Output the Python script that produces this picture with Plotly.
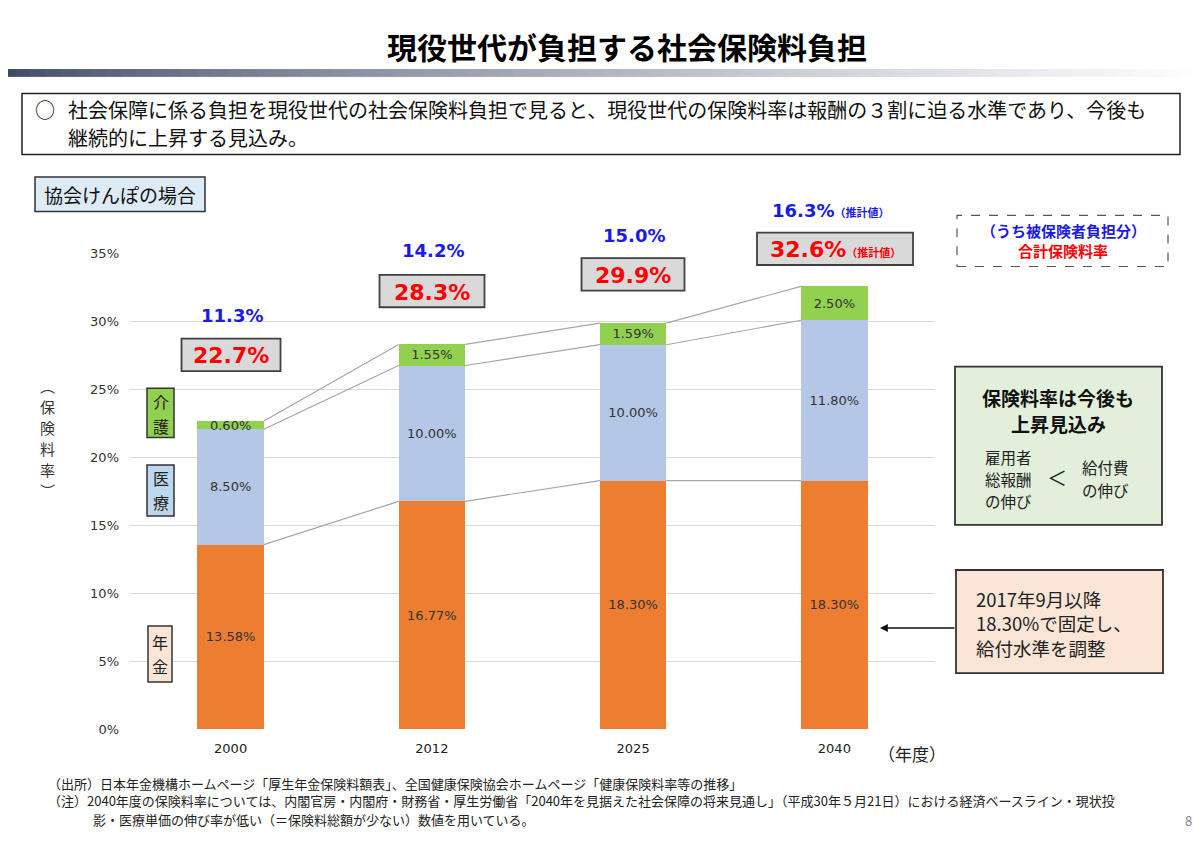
import plotly.graph_objects as go

# ---------------- data ----------------
years = ["2000", "2012", "2025", "2040"]
pension = [13.58, 16.77, 18.30, 18.30]     # 年金
medical = [8.50, 10.00, 10.00, 11.80]      # 医療
care = [0.60, 1.55, 1.59, 2.50]            # 介護
total_labels = ["22.7%", "28.3%", "29.9%", "32.6%"]
insured_labels = ["11.3%", "14.2%", "15.0%", "16.3%"]
estimate_flag = [False, False, False, True]

W, H = 1200, 849
OFF = 8  # page offset of the figure inside the browser window
FONT = "DejaVu Sans, Noto Sans CJK JP, sans-serif"
JP = "Noto Sans CJK JP, sans-serif"

def X(px):
    return (px - OFF) / W

def Y(py):
    return 1 - (py - OFF) / H

ORANGE = "#ED7D31"
BLUE = "#B4C7E7"
GREEN = "#92D050"
BAR_W = 0.33

fig = go.Figure()
for name, vals, col in [("年金", pension, ORANGE), ("医療", medical, BLUE), ("介護", care, GREEN)]:
    fig.add_trace(go.Bar(
        x=years, y=vals, name=name, marker=dict(color=col, line=dict(width=0)),
        width=BAR_W, text=[f"{v:.2f}%" for v in vals], textposition="inside",
        insidetextanchor="middle", textangle=0,
        textfont=dict(family=FONT, size=13, color="#333333"),
        hoverinfo="skip",
    ))

shapes = []
annotations = []

# connector lines between bar tops
levels = []
for i in range(len(years)):
    a = pension[i]
    b = a + medical[i]
    c = b + care[i]
    levels.append((a, b, c))
for i in range(len(years) - 1):
    for k in range(3):
        shapes.append(dict(type="line", xref="x", yref="y",
                           x0=i + BAR_W / 2, x1=i + 1 - BAR_W / 2,
                           y0=levels[i][k], y1=levels[i + 1][k],
                           line=dict(color="#A6A6A6", width=1.2), layer="above"))

# header gradient bar
n = 80
for j in range(n):
    t = j / (n - 1)
    tt = t ** 0.75
    r = int(61 + (255 - 61) * tt)
    g = int(74 + (255 - 74) * tt)
    b_ = int(102 + (255 - 102) * tt)
    x0 = j * (W + OFF) / n
    x1 = (j + 1) * (W + OFF) / n + 1
    shapes.append(dict(type="rect", xref="paper", yref="paper",
                       x0=X(x0), x1=X(x1), y0=Y(71), y1=Y(63),
                       fillcolor=f"rgb({r},{g},{b_})", line=dict(width=0), layer="below"))

def rect(x0, y0, x1, y1, fill="rgba(0,0,0,0)", color="#333333", width=1.5, dash="solid"):
    shapes.append(dict(type="rect", xref="paper", yref="paper",
                       x0=X(x0), x1=X(x1), y0=Y(y1), y1=Y(y0),
                       fillcolor=fill, line=dict(color=color, width=width, dash=dash),
                       layer="above"))

def text(x, y, s, size=14, color="#222222", xanchor="center", family=JP, bold=False,
         yanchor="middle"):
    if bold:
        s = f"<b>{s}</b>"
    annotations.append(dict(xref="paper", yref="paper", x=X(x), y=Y(y), text=s,
                            showarrow=False, xanchor=xanchor, yanchor=yanchor,
                            align="left" if xanchor == "left" else "center",
                            font=dict(family=family, size=size, color=color)))

def lines(x, y_top, rows, pitch, size, **kw):
    for k, row in enumerate(rows):
        text(x, y_top + k * pitch, row, size=size, **kw)

# title
text(627, 40, "現役世代が負担する社会保険料負担", size=30, color="#000000", bold=True)

# summary box
rect(22, 88, 1180, 150, color="#222222", width=1.5)
text(33, 104, "○", size=20, color="#111111", xanchor="left")
text(66, 104, "社会保障に係る負担を現役世代の社会保険料負担で見ると、現役世代の保険料率は報酬の３割に迫る水準であり、今後も",
     size=20, color="#111111", xanchor="left")
text(66, 133, "継続的に上昇する見込み。", size=20, color="#111111", xanchor="left")

# kyokai kenpo box
rect(35, 173, 205, 208, fill="#DDEBF7", color="#333333", width=1.5)
text(120, 190.5, "協会けんぽの場合", size=19, color="#111111")

# total (gray box) and insured share (blue) labels above bars
box_y = [354, 289, 272, 246]
blue_y = [314, 248, 232, 207]
box_w = [99, 105, 103, 156]
for i, yr in enumerate(years):
    cx = 231 + 201 * i
    if estimate_flag[i]:
        cx_box = 835
        red_txt = f"<b>{total_labels[i]}</b><span style='font-size:11px'><b>（推計値）</b></span>"
        blue_txt = f"<b>{insured_labels[i]}</b><span style='font-size:11px'><b>（推計値）</b></span>"
        cx_blue = 830
    else:
        cx_box = cx
        red_txt = f"<b>{total_labels[i]}</b>"
        blue_txt = f"<b>{insured_labels[i]}</b>"
        cx_blue = cx + 1
    rect(cx_box - box_w[i] / 2, box_y[i] - 16.5, cx_box + box_w[i] / 2, box_y[i] + 16.5,
         fill="#D9D9D9", color="#404040", width=1.8)
    annotations.append(dict(xref="paper", yref="paper", x=X(cx_box), y=Y(box_y[i] + 1), text=red_txt,
                            showarrow=False, xanchor="center", yanchor="middle",
                            font=dict(family=FONT, size=22, color="#FF0000")))
    annotations.append(dict(xref="paper", yref="paper", x=X(cx_blue), y=Y(blue_y[i]), text=blue_txt,
                            showarrow=False, xanchor="center", yanchor="middle",
                            font=dict(family=FONT, size=18, color="#1A1AE6")))

# legend-ish dashed box
rect(957, 212, 1168, 264, color="#555555", width=1.2, dash="dash")
text(1063, 227, "（うち被保険者負担分）", size=15, color="#1A1AE6", bold=True)
text(1063, 248, "合計保険料率", size=15, color="#FF0000", bold=True)

# green message box
rect(955, 366, 1162, 527, fill="#E2EFDA", color="#333333", width=1.8)
lines(1058, 397, ["保険料率は今後も", "上昇見込み"], 26.5, 19, color="#111111", bold=True)
lines(1008, 458, ["雇用者", "総報酬", "の伸び"], 22.5, 15.5, color="#222222")
text(1057, 479, "＜", size=20, color="#222222")
lines(1105, 468, ["給付費", "の伸び"], 24, 15.5, color="#222222")

# peach box
rect(956, 573, 1163, 678, fill="#FBE5D6", color="#333333", width=1.8)
lines(974, 602, ["2017年9月以降", "18.30%で固定し、", "給付水準を調整"], 25, 18.5,
      color="#222222", xanchor="left")
annotations.append(dict(xref="paper", yref="paper", x=X(880), y=Y(632), ax=76, ay=0,
                        axref="pixel", ayref="pixel", text="", showarrow=True,
                        arrowhead=2, arrowsize=1.2, arrowwidth=1.3, arrowcolor="#111111"))

# side category labels (vertical text)
rect(147, 388, 174, 438, fill=GREEN, color="#333333", width=1.5)
lines(160.5, 401, list("介護"), 25, 16)
rect(147, 466, 174, 518, fill="#BDD7EE", color="#333333", width=1.5)
lines(160.5, 479, list("医療"), 25, 16)
rect(148, 630, 172, 687, fill="#FBE5D6", color="#333333", width=1.5)
lines(160, 646, list("年金"), 25, 16)

# y-axis title (vertical)
lines(47, 385, list("︵保険料率︶"), 21.5, 15, color="#333333")

# year unit
text(912, 760, "（年度）", size=17, color="#222222")

# footnotes
text(46, 790, "（出所）日本年金機構ホームページ「厚生年金保険料額表」、全国健康保険協会ホームページ「健康保険料率等の推移」",
     size=13, color="#222222", xanchor="left")
text(46, 808, "（注）2040年度の保険料率については、内閣官房・内閣府・財務省・厚生労働省「2040年を見据えた社会保障の将来見通し」（平成30年５月21日）における経済ベースライン・現状投",
     size=13, color="#222222", xanchor="left")
text(91, 827, "影・医療単価の伸び率が低い（＝保険料総額が少ない）数値を用いている。",
     size=13, color="#222222", xanchor="left")
text(1188, 828, "8", size=13, color="#888888")

fig.update_layout(
    width=W, height=H,
    margin=dict(l=0, r=0, t=0, b=0),
    barmode="stack",
    showlegend=False,
    paper_bgcolor="white",
    plot_bgcolor="white",
    shapes=shapes,
    annotations=annotations,
    uniformtext=dict(minsize=13, mode="show"),
    font=dict(family=FONT),
    xaxis=dict(domain=[X(130), X(935)], type="category", range=[-0.5, 3.5],
               showgrid=False, showline=False, ticks="", ticklabelstandoff=10,
               tickfont=dict(family=FONT, size=13, color="#222222")),
    yaxis=dict(domain=[Y(735), Y(251)], range=[0, 35], dtick=5, ticksuffix="%",
               showgrid=True, gridcolor="#D9D9D9", gridwidth=1.2, zeroline=False,
               showline=False, ticks="", ticklabelstandoff=10,
               tickfont=dict(family=FONT, size=13, color="#333333")),
)

fig.write_html("out.html")
